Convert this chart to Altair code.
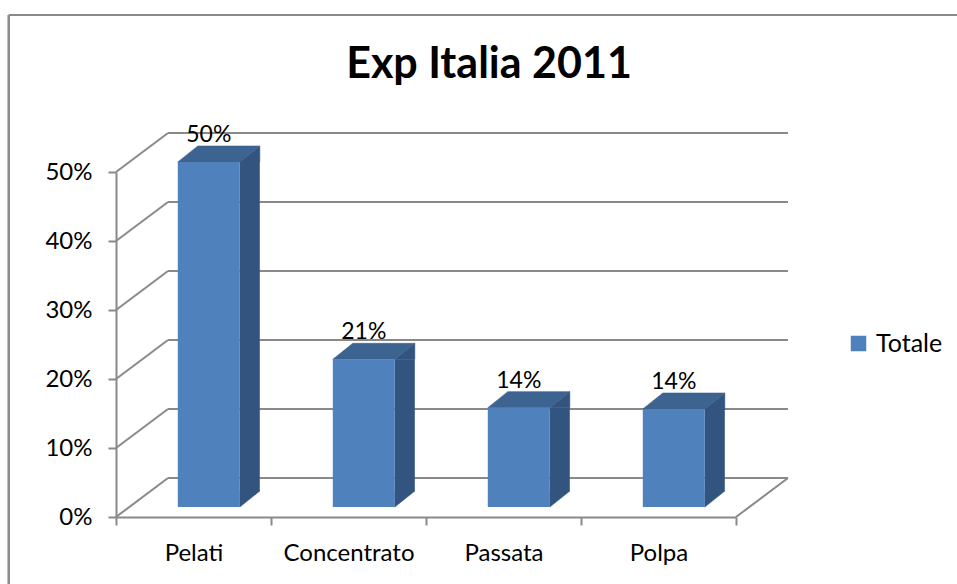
import altair as alt
import pandas as pd

# ---------------- data ----------------
categories = ["Pelati", "Concentrato", "Passata", "Polpa"]
values = [0.500, 0.214, 0.144, 0.142]
series_name = "Totale"
y_ticks = [0, 0.1, 0.2, 0.3, 0.4, 0.5]
chart_title = "Exp Italia 2011"

df = pd.DataFrame({"cat": categories, "val": values, "series": series_name})
grid = pd.DataFrame({"v": y_ticks})
one = pd.DataFrame({"a": [0]})

# ---------------- styling ----------------
W, H = 620, 345
PAD = {"left": 116, "top": 172, "right": 221, "bottom": 67}
WALL_DX, WALL_DY = 52, -39          # depth of the 3-D back wall (px)
BAR_W = 62
BAR_DX, BAR_DY = 15.3, -10          # front face shift inside the depth
DEP_X, DEP_Y = 20, -16              # depth of each bar
FRONT, TOP, SIDE = "#4F81BD", "#3D6391", "#33547E"
LINE = "#898989"
FONT = "Lato"
FS = 24
LW = 2

xs = alt.X("cat:N", sort=categories, title=None,
           scale=alt.Scale(paddingInner=0, paddingOuter=0),
           axis=alt.Axis(tickBand="extent", labelAngle=0, grid=False))
ys = alt.Y("val:Q", title=None, scale=alt.Scale(domain=[0, 0.5], nice=False),
           axis=alt.Axis(values=y_ticks, format=".0%", grid=False))
yv = alt.Y("v:Q", title=None, scale=alt.Scale(domain=[0, 0.5], nice=False),
           axis=alt.Axis(values=y_ticks, format=".0%", grid=False))

# back wall gridlines
back = alt.Chart(grid).mark_rule(color=LINE, strokeWidth=LW, yOffset=WALL_DY).encode(
    x=alt.value(WALL_DX), x2=alt.value(alt.expr(f"width + {WALL_DX}")), y=yv)
# left wall diagonals
left = alt.Chart(grid).mark_rule(color=LINE, strokeWidth=LW, y2Offset=WALL_DY).encode(
    x=alt.value(0), x2=alt.value(WALL_DX), y=yv, y2=alt.Y2("v:Q"))
# right floor diagonal
right = alt.Chart(grid).transform_filter("datum.v == 0").mark_rule(
    color=LINE, strokeWidth=LW, y2Offset=WALL_DY).encode(
    x=alt.value("width"), x2=alt.value(alt.expr(f"width + {WALL_DX}")), y=yv, y2=alt.Y2("v:Q"))

# side faces
side_x = BAR_DX + BAR_W / 2 + DEP_X / 2
side_rect = alt.Chart(df).mark_bar(color=SIDE, width=DEP_X, xOffset=side_x,
                                   yOffset=BAR_DY, y2Offset=BAR_DY + DEP_Y).encode(
    x=xs, y=ys, y2=alt.datum(0))
r = abs(DEP_Y) / DEP_X
tri_top = f"M-1,{r}L1,{-r}L1,{r}Z"
tri_bot = f"M-1,{-r}L1,{-r}L-1,{r}Z"
side_top = alt.Chart(df).mark_point(shape=tri_top, size=DEP_X ** 2, filled=True, opacity=1,
                                    color=SIDE, stroke=SIDE, strokeWidth=0.6,
                                    xOffset=side_x, yOffset=BAR_DY + DEP_Y / 2).encode(x=xs, y=ys)
side_bot = alt.Chart(df).mark_point(shape=tri_bot, size=DEP_X ** 2, filled=True, opacity=1,
                                    color=SIDE, stroke=SIDE, strokeWidth=0.6,
                                    xOffset=side_x, yOffset=BAR_DY + DEP_Y / 2).encode(
    x=xs, y=alt.datum(0))
# top faces
k = (BAR_W + DEP_X) / 2
a = DEP_X / k
b = abs(DEP_Y) / 2 / k
top_path = f"M-1,{b}L{1 - a},{b}L1,{-b}L{-1 + a},{-b}Z"
top_face = alt.Chart(df).mark_point(shape=top_path, size=(2 * k) ** 2, filled=True, opacity=1,
                                    color=TOP, stroke=TOP, strokeWidth=0.6,
                                    xOffset=BAR_DX - BAR_W / 2 + k,
                                    yOffset=BAR_DY + DEP_Y / 2).encode(x=xs, y=ys)
# front faces
front = alt.Chart(df).mark_bar(width=BAR_W, xOffset=BAR_DX, yOffset=BAR_DY, y2Offset=BAR_DY).encode(
    x=xs, y=ys, y2=alt.datum(0),
    color=alt.Color("series:N", scale=alt.Scale(range=[FRONT]),
                    legend=alt.Legend(title=None, orient="none", legendX=730, legendY=159,
                                      symbolType="square", symbolSize=240, symbolStrokeWidth=0,
                                      labelFont=FONT, labelFontSize=FS + 1, labelColor="black",
                                      labelOffset=5, padding=0)))
labels = alt.Chart(df).mark_text(font=FONT, fontSize=FS - 1, color="black", baseline="middle",
                                 dx=BAR_DX, dy=BAR_DY + DEP_Y - 11).encode(
    x=xs, y=ys, text=alt.Text("val:Q", format=".0%"))

title = alt.Chart(one).mark_text(text=chart_title, font=FONT, fontSize=43, fontWeight="bold",
                                 color="black", align="center", baseline="alphabetic").encode(
    x=alt.value(373), y=alt.value(-94))

frame_l = alt.Chart(one).mark_rule(color="#8A8A8A", strokeWidth=2.5).encode(
    x=alt.value(-107.3), y=alt.value(-157), y2=alt.value(alt.expr("height + 80")))
frame_t = alt.Chart(one).mark_rule(color="#8A8A8A", strokeWidth=2).encode(
    x=alt.value(-107.3), x2=alt.value(alt.expr("width + 240")), y=alt.value(-157))

chart = alt.layer(frame_l, frame_t, back, left, right, side_rect, side_top, side_bot,
                  top_face, front, labels, title).properties(
    width=W, height=H, padding=PAD, autosize="none", background="white"
).configure_view(stroke=None).configure_axis(
    domainColor=LINE, domainWidth=LW, tickColor=LINE, tickWidth=LW, tickSize=8,
    labelFont=FONT, labelFontSize=FS, labelColor="black", labelPadding=16
)

chart.save("out.html", embed_options={"renderer": "svg", "actions": False})
